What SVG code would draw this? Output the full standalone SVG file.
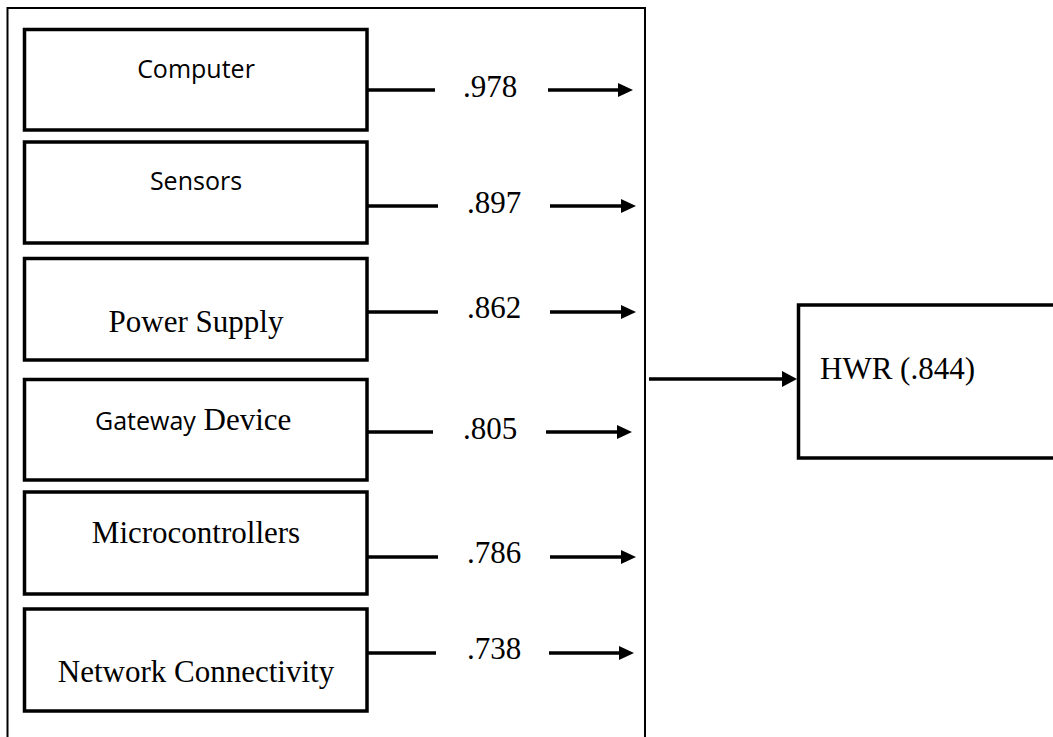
<svg xmlns="http://www.w3.org/2000/svg" width="1053" height="737" viewBox="0 0 1053 737">
<style>
.box{fill:#fff;stroke:#000;stroke-width:3.5}
.frame{fill:none;stroke:#000;stroke-width:2}
.ln{stroke:#000;stroke-width:3.5;fill:none}
.sans{font-family:"Open Sans","Noto Sans",sans-serif;font-size:25px;fill:#000}
.serif{font-family:"Liberation Serif","Times New Roman",serif;font-size:31px;fill:#000}
</style>
<defs>
<marker id="ah" markerUnits="userSpaceOnUse" markerWidth="16" markerHeight="16" refX="3" refY="7" orient="auto">
<path d="M0,0 L15,7 L0,14 z" fill="#000"/>
</marker>
<marker id="ah2" markerUnits="userSpaceOnUse" markerWidth="16" markerHeight="18" refX="3" refY="8" orient="auto">
<path d="M0,0 L15,8 L0,16 z" fill="#000"/>
</marker>
</defs>
<rect width="1053" height="737" fill="#fff"/>
<path class="frame" d="M7.5,740 V8 H645 V740"/>
<g id="computer"><rect class="box" x="24.5" y="29.5" width="342.5" height="100.5"/><text class="sans" x="196" y="78" text-anchor="middle">Computer</text></g>
<g id="sensors"><rect class="box" x="24.5" y="142" width="342.5" height="101"/><text class="sans" x="196" y="190" text-anchor="middle">Sensors</text></g>
<g id="power"><rect class="box" x="24.5" y="258.5" width="342.5" height="101.5"/><text class="serif" x="196" y="332" text-anchor="middle">Power Supply</text></g>
<g id="gateway"><rect class="box" x="24.5" y="379.5" width="342.5" height="100.5"/><text x="95" y="430"><tspan class="sans">Gateway</tspan><tspan class="serif"> Device</tspan></text></g>
<g id="micro"><rect class="box" x="24.5" y="492" width="342.5" height="102"/><text class="serif" x="196" y="543" text-anchor="middle">Microcontrollers</text></g>
<g id="network"><rect class="box" x="24.5" y="609" width="342.5" height="102"/><text class="serif" x="196" y="682" text-anchor="middle">Network Connectivity</text></g>
<g id="hwr"><rect class="box" x="798.5" y="305" width="300" height="153"/><text class="serif" x="820" y="379">HWR (.844)</text></g>
<g id="connectors">
<line class="ln" x1="367" y1="90" x2="435" y2="90"/><text class="serif" x="463" y="97">.978</text><line class="ln" x1="548" y1="90" x2="621" y2="90" marker-end="url(#ah)"/>
<line class="ln" x1="367" y1="206" x2="438" y2="206"/><text class="serif" x="467" y="213">.897</text><line class="ln" x1="550" y1="206" x2="624" y2="206" marker-end="url(#ah)"/>
<line class="ln" x1="367" y1="312" x2="438" y2="312"/><text class="serif" x="467" y="318">.862</text><line class="ln" x1="550" y1="312" x2="624" y2="312" marker-end="url(#ah)"/>
<line class="ln" x1="367" y1="432" x2="433" y2="432"/><text class="serif" x="463" y="439">.805</text><line class="ln" x1="546" y1="432" x2="620" y2="432" marker-end="url(#ah)"/>
<line class="ln" x1="367" y1="557" x2="438" y2="557"/><text class="serif" x="467" y="563">.786</text><line class="ln" x1="550" y1="557" x2="624" y2="557" marker-end="url(#ah)"/>
<line class="ln" x1="367" y1="653" x2="436" y2="653"/><text class="serif" x="467" y="659">.738</text><line class="ln" x1="549" y1="653" x2="622" y2="653" marker-end="url(#ah)"/>
<line class="ln" x1="649" y1="379" x2="785" y2="379" marker-end="url(#ah2)"/>
</g>
</svg>
